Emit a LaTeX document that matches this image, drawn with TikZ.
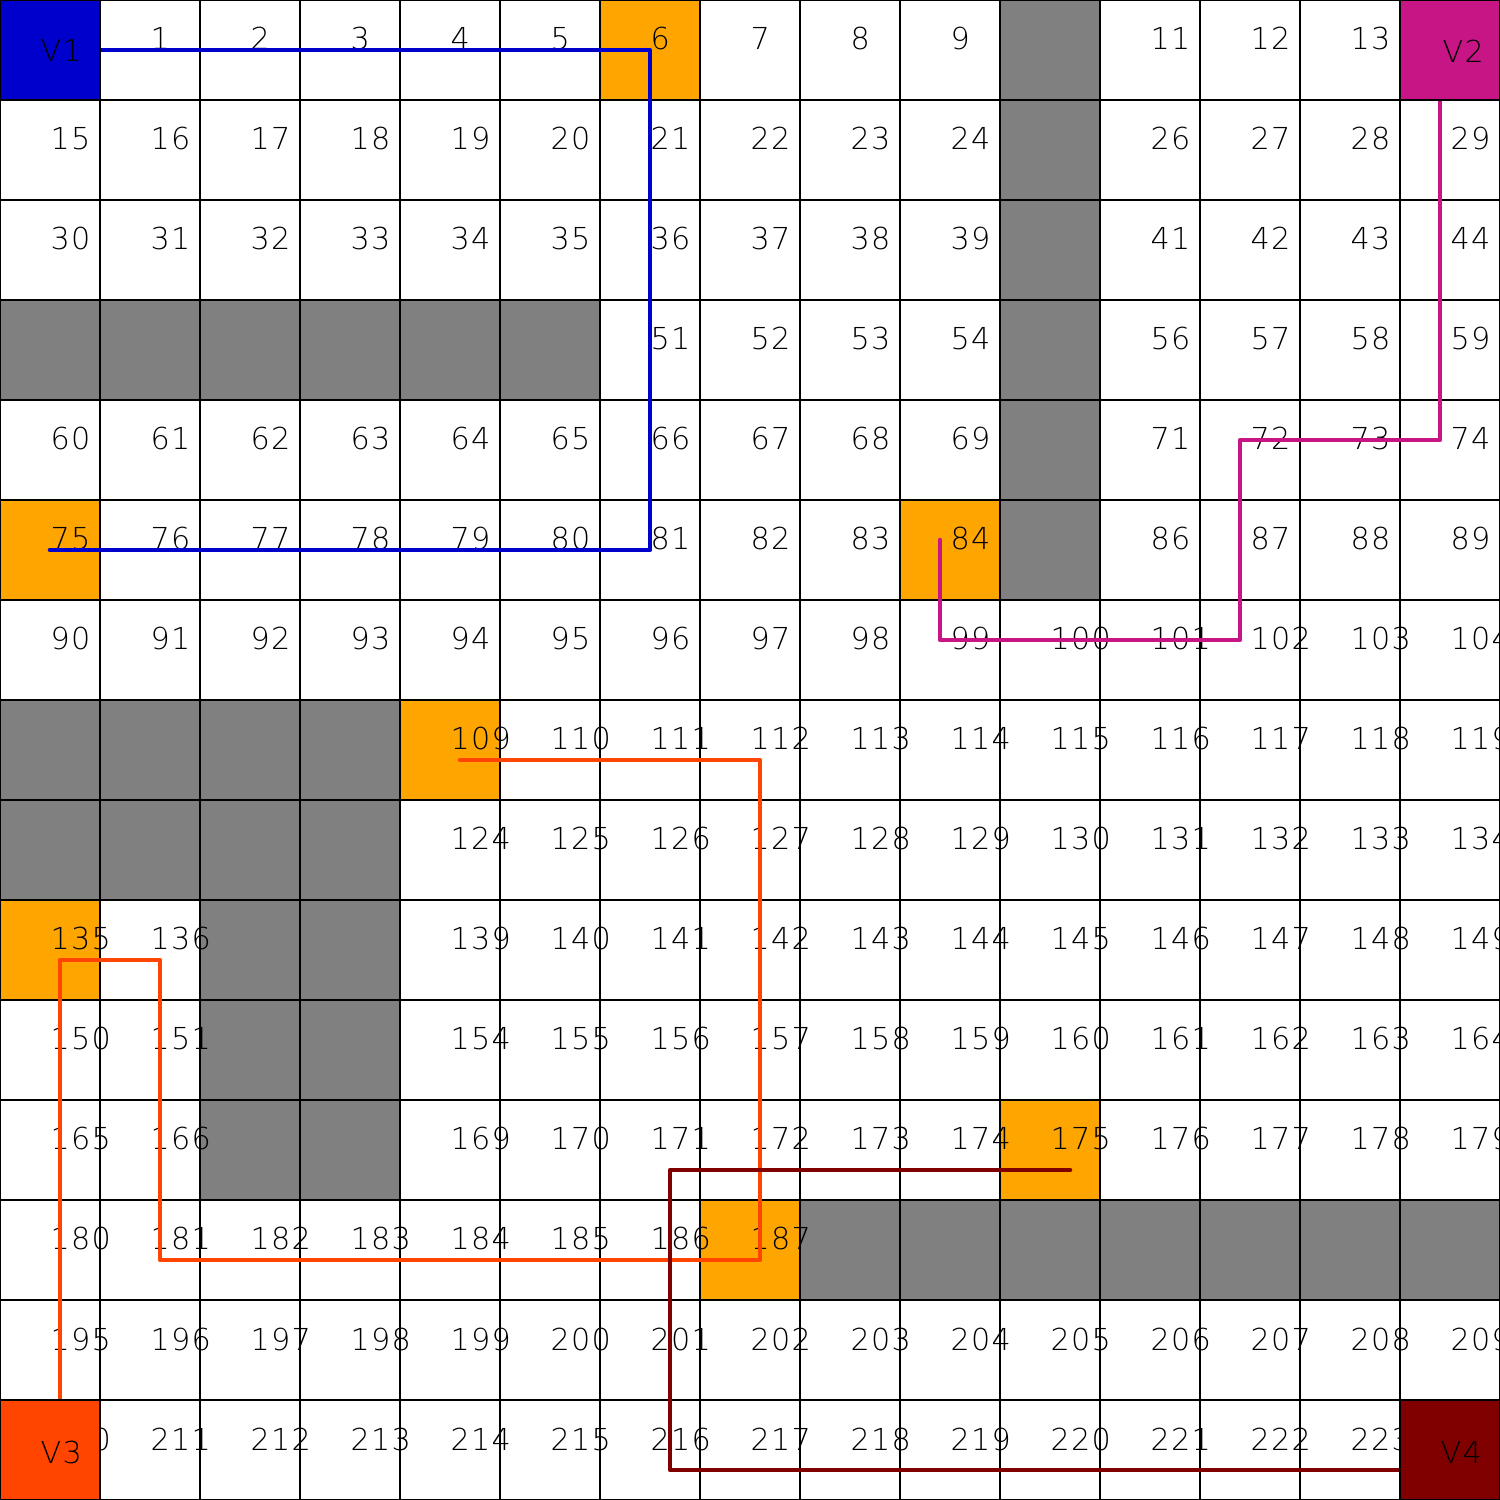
\documentclass[tikz,border=0pt]{standalone}
\usepackage{fontspec}
\setmainfont{DejaVu Sans ExtraLight}[LetterSpace=4]
\usepackage{xcolor}
\usepackage{tikz}
\definecolor{agentone}{HTML}{0000CD}
\definecolor{agenttwo}{HTML}{C71585}
\definecolor{agentthree}{HTML}{FF4500}
\definecolor{agentfour}{HTML}{800000}
\definecolor{goal}{HTML}{FFA500}
\definecolor{wall}{HTML}{808080}

\begin{document}
\begin{tikzpicture}[
  cell/.style={draw=black,line width=0.35pt,minimum size=1cm,inner sep=0pt,outer sep=0pt},
  num/.style={anchor=base west,inner sep=0pt,font=\fontsize{8.6}{10}\selectfont},
  route/.style={line width=1.3pt,line join=round,line cap=round}
]
\useasboundingbox (0,0) rectangle (15,15);
% cell centres, numbered row by row from the top left
\foreach \i in {0,...,224}{
  \pgfmathtruncatemacro\col{mod(\i,15)}
  \pgfmathtruncatemacro\row{div(\i,15)}
  \coordinate (c\i) at (\col+0.5,14.5-\row);
}
\foreach \i in {10,25,40,55,70,85,45,46,47,48,49,50,105,106,107,108,120,121,122,123,
                137,138,152,153,167,168,188,189,190,191,192,193,194}{
  \node[cell,draw=none,fill=wall] (w\i) at (c\i) {};
  \expandafter\gdef\csname skip\i\endcsname{}
}
% the agent cells hide their own numbers
\foreach \i in {0,14,224}
  \expandafter\gdef\csname skip\i\endcsname{};
\foreach \i in {6,75,84,109,135,175,187}
  \node[cell,draw=none,fill=goal] (g\i) at (c\i) {};
\draw[line width=0.35pt] (0,0) grid (15,15);
\foreach \i in {0,...,224}{
  \ifcsname skip\i\endcsname\else\node[num] (n\i) at (c\i) {\i};\fi
}
\draw[route,agentone] (c0) -- (c6) -- (c81) -- (c75);
\draw[route,agenttwo,transform canvas={xshift=-1mm,yshift=1mm}]
  (c14) -- (c74) -- (c72) -- (c102) -- (c99) -- (c84);
\draw[route,agentthree,transform canvas={xshift=1mm,yshift=-1mm}]
  (c210) -- (c135) -- (c136) -- (c181) -- (c187) -- (c112) -- (c109);
\draw[route,agentfour,transform canvas={xshift=2mm,yshift=-2mm}]
  (c224) -- (c216) -- (c171) -- (c175);
\node[cell,fill=agentone] (v1) at (c0) {};
\node[cell,fill=agenttwo] (v2) at (c14) {};
\node[cell,fill=agentthree] (v3) at (c210) {};
\node[cell,fill=agentfour] (v4) at (c224) {};
\node[num] (v1lab) at ([shift={(-0.1,-0.12)}]v1.center) {V1};
\node[num] (v2lab) at ([shift={(-0.08,-0.13)}]v2.center) {V2};
\node[num] (v3lab) at ([shift={(-0.1,-0.13)}]v3.center) {V3};
\node[num] (v4lab) at ([shift={(-0.1,-0.13)}]v4.center) {V4};
\end{tikzpicture}
\end{document}
